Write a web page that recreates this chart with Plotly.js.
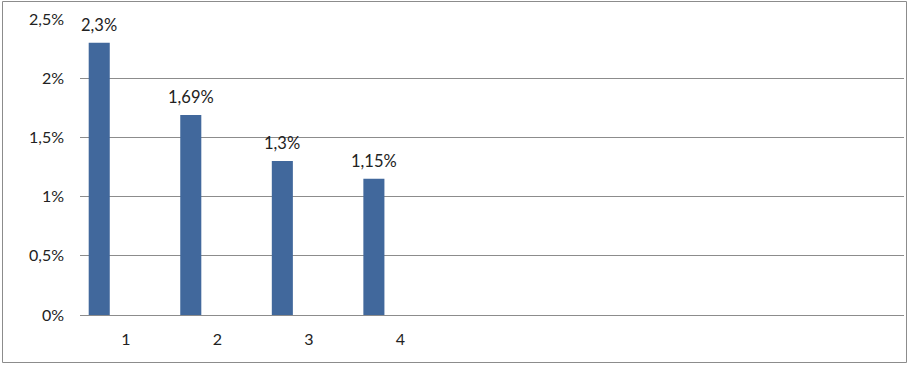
<!DOCTYPE html>
<html>
<head>
<meta charset="utf-8">
<script src="https://cdn.plot.ly/plotly-3.0.1.min.js"></script>
<style>
  html, body { margin: 0; padding: 0; background: #fff; }
  #chart { width: 909px; height: 365px; }
</style>
</head>
<body>
<div id="chart"></div>
<script>
// Data
const categories = [1, 2, 3, 4];
const values = [2.3, 1.69, 1.3, 1.15];           // percent
const tickLabels = ["1", "2", "3", "4"];
const slotCount = 9;                              // empty category slots shown on the axis

const labelText = values.map(v => String(v).replace('.', ',') + '%');

const W = 909, H = 365;
const margin = { l: 80, r: 5, t: 19, b: 50 };
const plotW = W - margin.l - margin.r;
const plotH = H - margin.t - margin.b;

// bar sits in the left part of each category slot
const barWidth = 0.23;
const barOffset = -0.405;

const FONT = 'Lato, "Open Sans", sans-serif';

const trace = {
  type: 'bar',
  x: categories,
  y: values,
  width: barWidth,
  offset: barOffset,
  marker: { color: '#41689c', line: { width: 0 } },
  hoverinfo: 'skip'
};

const annotations = categories.map((c, i) => ({
  x: c + barOffset + barWidth / 2,
  y: values[i],
  xref: 'x', yref: 'y',
  text: labelText[i],
  showarrow: false,
  yanchor: 'bottom',
  yshift: 6,
  font: { family: FONT, size: 16.5, color: '#222' }
}));

// outer frame in paper coordinates
const px = x => (x - margin.l) / plotW;
const py = y => 1 - (y - margin.t) / plotH;

const layout = {
  width: W, height: H,
  margin: margin,
  paper_bgcolor: '#fff',
  plot_bgcolor: '#fff',
  separators: ', ',
  showlegend: false,
  font: { family: FONT, size: 16, color: '#222' },
  xaxis: {
    type: 'linear',
    range: [0.5, slotCount + 0.5],
    tickvals: categories,
    ticktext: tickLabels,
    ticks: '',
    showgrid: false,
    zeroline: false,
    showline: false,
    ticklabelstandoff: 13,
    fixedrange: true
  },
  yaxis: {
    range: [0, 2.5],
    dtick: 0.5,
    tick0: 0,
    ticksuffix: '%',
    showgrid: true,
    gridcolor: '#8c8c8c',
    gridwidth: 1,
    zeroline: true,
    zerolinecolor: '#8c8c8c',
    zerolinewidth: 1,
    showline: false,
    ticks: '',
    ticklabelstandoff: 15,
    fixedrange: true
  },
  annotations: annotations,
  shapes: [{
    type: 'rect',
    xref: 'paper', yref: 'paper',
    x0: px(2.5), x1: px(906.5),
    y0: py(362.5), y1: py(1.5),
    line: { color: '#8c8c8c', width: 1 },
    fillcolor: 'rgba(0,0,0,0)',
    layer: 'above'
  }]
};

Plotly.newPlot('chart', [trace], layout, { displayModeBar: false, staticPlot: true });
</script>
</body>
</html>
